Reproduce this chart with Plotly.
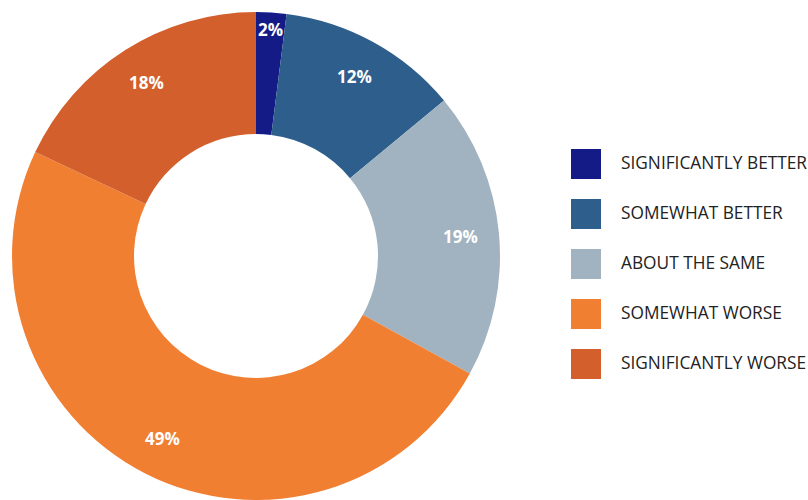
import math
import plotly.graph_objects as go

categories = ["SIGNIFICANTLY BETTER", "SOMEWHAT BETTER", "ABOUT THE SAME",
              "SOMEWHAT WORSE", "SIGNIFICANTLY WORSE"]
values = [2, 12, 19, 49, 18]
colors = ["#141B86", "#2D5E8C", "#A1B3C0", "#F17F31", "#D35F2D"]

W, H = 808, 500
TOP = 12
PW = 512
dom_x = [0, PW / W]
dom_y = [0, (H - TOP) / H]
R = min(PW, H - TOP) / 2
cx, cy = PW / 2, TOP + (H - TOP) / 2

fig = go.Figure(go.Pie(
    labels=categories, values=values, hole=0.5, sort=False,
    direction="clockwise", rotation=0,
    marker=dict(colors=colors, line=dict(width=0)),
    textinfo="none", hoverinfo="label+percent", showlegend=False,
    domain=dict(x=dom_x, y=dom_y),
))

annotations = []
shapes = []
total = sum(values)
cum = 0
for v in values:
    mid = (cum + v / 2) / total * 2 * math.pi
    cum += v
    rf = 0.93 if v / total < 0.05 else 0.84
    px = cx + rf * R * math.sin(mid)
    py = cy - rf * R * math.cos(mid)
    annotations.append(dict(
        x=px / W, y=1 - py / H, xref="paper", yref="paper",
        text=f"{round(v / total * 100)}%", showarrow=False,
        font=dict(family="Open Sans", size=17, color="white", weight="bold"),
        xanchor="center", yanchor="middle"))

# custom legend
for i, (cat, col) in enumerate(zip(categories, colors)):
    top = 149 + i * 50
    shapes.append(dict(type="rect", xref="paper", yref="paper",
                       x0=571 / W, x1=601 / W, y0=1 - (top + 30) / H, y1=1 - top / H,
                       fillcolor=col, line=dict(width=0)))
    annotations.append(dict(
        x=619 / W, y=1 - (top + 13.5) / H, xref="paper", yref="paper",
        text=cat, showarrow=False, xanchor="left", yanchor="middle",
        font=dict(family="Open Sans", size=17.3, color="#222222")))

fig.update_layout(
    width=W, height=H,
    margin=dict(l=0, r=0, t=0, b=0),
    paper_bgcolor="white", plot_bgcolor="white",
    annotations=annotations, shapes=shapes,
)
fig.write_html("out.html", config={"displayModeBar": False},
               post_script="document.body.style.margin='0';document.body.style.overflow='hidden';")
